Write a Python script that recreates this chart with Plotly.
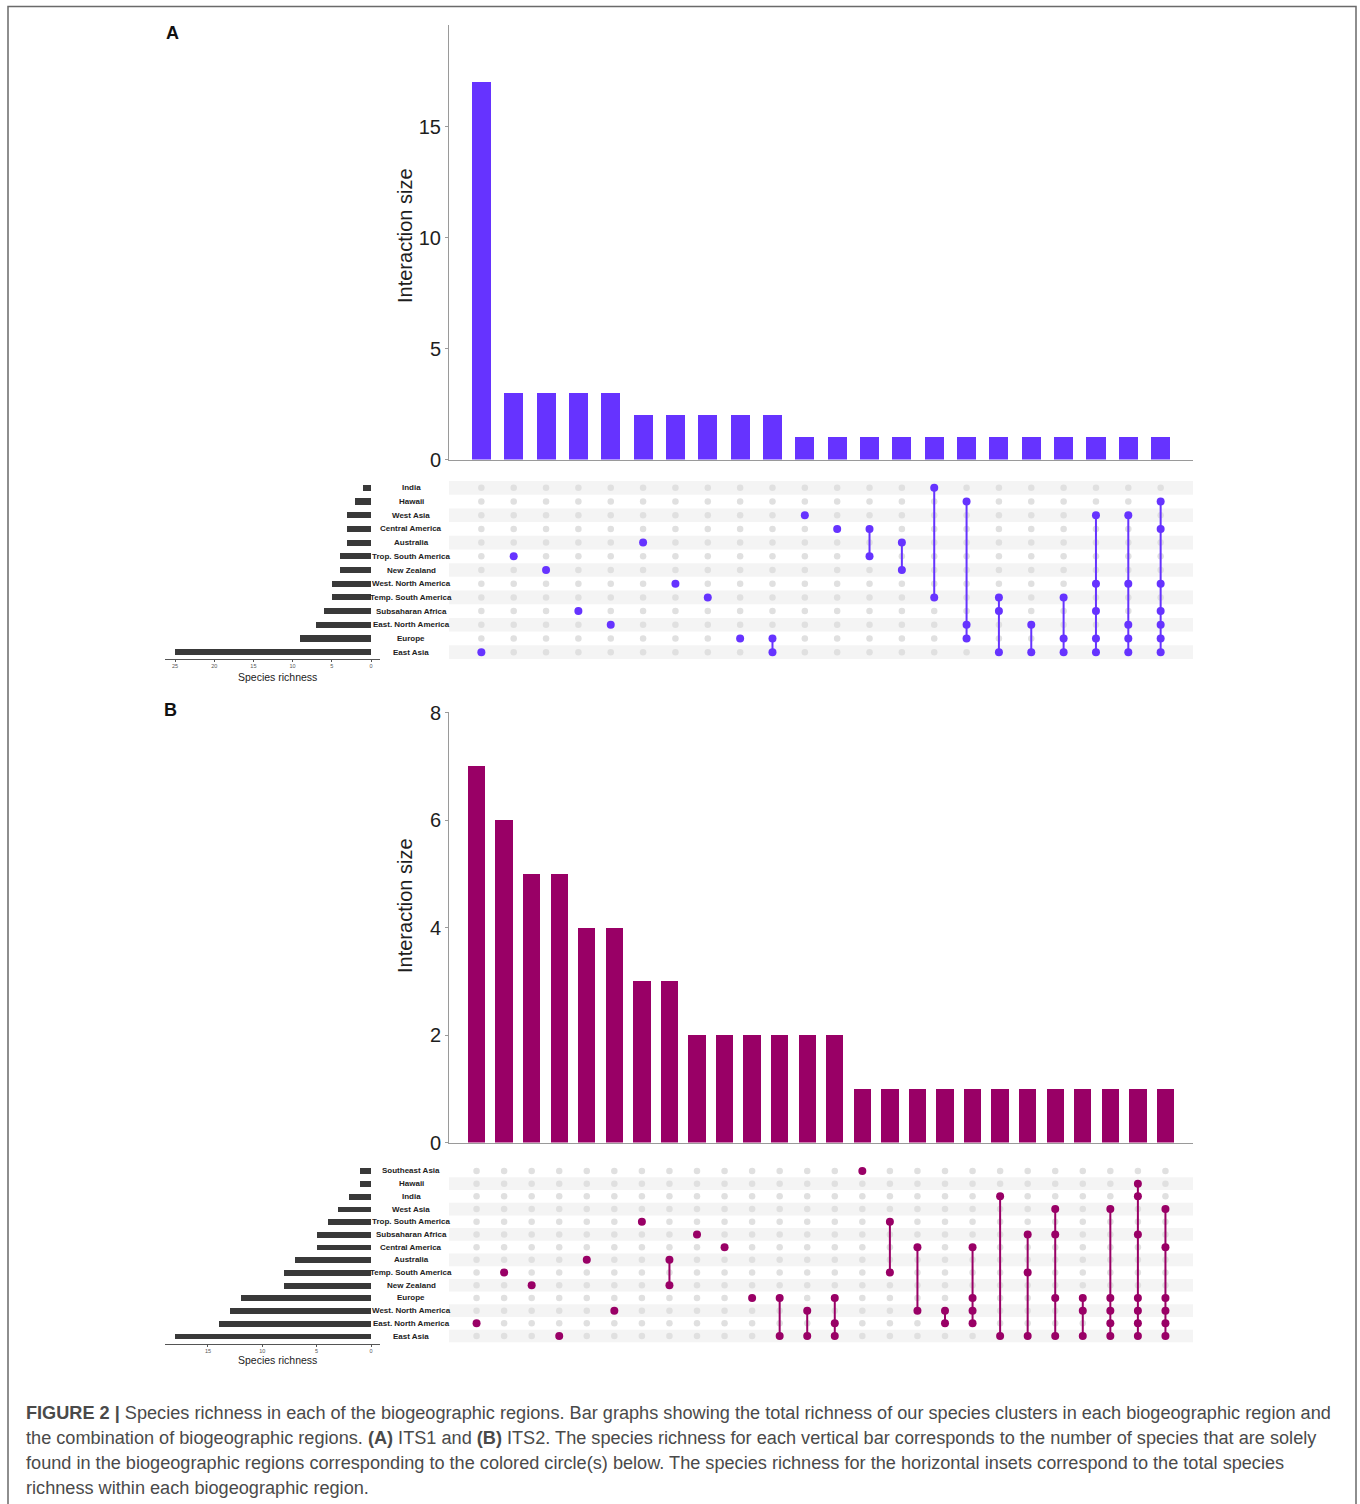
import plotly.graph_objects as go

# ---------------- data ----------------
# Panel A (ITS1)
sets_a = ["India", "Hawaii", "West Asia", "Central America", "Australia",
          "Trop. South America", "New Zealand", "West. North America",
          "Temp. South America", "Subsaharan Africa", "East. North America",
          "Europe", "East Asia"]
set_sizes_a = [1, 2, 3, 3, 3, 4, 4, 5, 5, 6, 7, 9, 25]
inter_sizes_a = [17, 3, 3, 3, 3, 2, 2, 2, 2, 2, 1, 1, 1, 1, 1, 1, 1, 1, 1, 1, 1, 1]
inter_members_a = [
    ["East Asia"],
    ["Trop. South America"],
    ["New Zealand"],
    ["Subsaharan Africa"],
    ["East. North America"],
    ["Australia"],
    ["West. North America"],
    ["Temp. South America"],
    ["Europe"],
    ["Europe", "East Asia"],
    ["West Asia"],
    ["Central America"],
    ["Central America", "Trop. South America"],
    ["Australia", "New Zealand"],
    ["India", "Temp. South America"],
    ["Hawaii", "East. North America", "Europe"],
    ["Temp. South America", "Subsaharan Africa", "East Asia"],
    ["East. North America", "East Asia"],
    ["Temp. South America", "Europe", "East Asia"],
    ["West Asia", "West. North America", "Subsaharan Africa", "Europe", "East Asia"],
    ["West Asia", "West. North America", "East. North America", "Europe", "East Asia"],
    ["Hawaii", "Central America", "West. North America", "Subsaharan Africa",
     "East. North America", "Europe", "East Asia"],
]

# Panel B (ITS2)
sets_b = ["Southeast Asia", "Hawaii", "India", "West Asia", "Trop. South America",
          "Subsaharan Africa", "Central America", "Australia", "Temp. South America",
          "New Zealand", "Europe", "West. North America", "East. North America",
          "East Asia"]
set_sizes_b = [1, 1, 2, 3, 4, 5, 5, 7, 8, 8, 12, 13, 14, 18]
inter_sizes_b = [7, 6, 5, 5, 4, 4, 3, 3, 2, 2, 2, 2, 2, 2,
                 1, 1, 1, 1, 1, 1, 1, 1, 1, 1, 1, 1]
inter_members_b = [
    ["East. North America"],
    ["Temp. South America"],
    ["New Zealand"],
    ["East Asia"],
    ["Australia"],
    ["West. North America"],
    ["Trop. South America"],
    ["Australia", "New Zealand"],
    ["Subsaharan Africa"],
    ["Central America"],
    ["Europe"],
    ["Europe", "East Asia"],
    ["West. North America", "East Asia"],
    ["Europe", "East. North America", "East Asia"],
    ["Southeast Asia"],
    ["Trop. South America", "Temp. South America"],
    ["Central America", "West. North America"],
    ["West. North America", "East. North America"],
    ["Central America", "Europe", "West. North America", "East. North America"],
    ["India", "East Asia"],
    ["Subsaharan Africa", "Temp. South America", "East Asia"],
    ["West Asia", "Subsaharan Africa", "Europe", "East Asia"],
    ["Europe", "West. North America", "East Asia"],
    ["West Asia", "Europe", "West. North America", "East. North America", "East Asia"],
    ["Hawaii", "India", "Subsaharan Africa", "Europe", "West. North America",
     "East. North America", "East Asia"],
    ["West Asia", "Central America", "Europe", "West. North America",
     "East. North America", "East Asia"],
]

color_a = "#6633FF"
color_b = "#990066"

# ---------------- layout helpers ----------------
W, H = 1360, 1504
FONT = "Liberation Sans, Arial, Helvetica, sans-serif"


def fx(x):
    return x / W


def fy(y):
    return 1 - y / H


fig = go.Figure()
annotations = []
shapes = []
layout_axes = {}


def add_panel(k, sets, set_sizes, inter_sizes, inter_members, color, geo):
    """k: panel number (0 or 1); uses three pairs of axes."""
    ax_bar, ax_mat, ax_ss = 3 * k + 1, 3 * k + 2, 3 * k + 3

    def nm(i):
        return "" if i == 1 else str(i)

    n_cols = len(inter_sizes)
    n_rows = len(sets)
    cols = list(range(n_cols))
    row_of = {s: n_rows - 1 - i for i, s in enumerate(sets)}
    x_range = [-1, n_cols]

    # --- intersection size bars ---
    fig.add_trace(go.Bar(
        x=cols, y=inter_sizes, width=geo["bar_w"], marker_color=color,
        marker_line_width=0, xaxis="x" + nm(ax_bar), yaxis="y" + nm(ax_bar),
        showlegend=False, hoverinfo="skip"))
    layout_axes["xaxis" + nm(ax_bar)] = dict(
        domain=[fx(449), fx(1193)], range=x_range, anchor="y" + nm(ax_bar),
        showline=True, linecolor="#9a9a9a", linewidth=1, showticklabels=False,
        ticks="", showgrid=False, zeroline=False, fixedrange=True,
        automargin=False)
    layout_axes["yaxis" + nm(ax_bar)] = dict(
        domain=[fy(geo["bar_bottom"]), fy(geo["bar_top"])],
        range=[0, geo["ymax"]], anchor="x" + nm(ax_bar),
        tickvals=geo["yticks"], showline=True, linecolor="#9a9a9a", linewidth=1,
        ticks="outside", ticklen=3, tickcolor="#9a9a9a",
        tickfont=dict(family=FONT, size=20, color="#1e1e1e"),
        showgrid=False, zeroline=False, fixedrange=True, automargin=False)
    annotations.append(dict(
        text="Interaction size", textangle=-90, xref="paper", yref="paper",
        x=fx(405), y=fy(geo["title_y"]), xanchor="center", yanchor="middle",
        showarrow=False, font=dict(family=FONT, size=20, color="#1e1e1e")))

    # --- membership matrix ---
    gx, gy = [], []
    for c in cols:
        for r in range(n_rows):
            gx.append(c)
            gy.append(r)
    fig.add_trace(go.Scatter(
        x=gx, y=gy, mode="markers",
        marker=dict(color="#e0e0e0", size=geo["dot_grey"]),
        xaxis="x" + nm(ax_mat), yaxis="y" + nm(ax_mat),
        showlegend=False, hoverinfo="skip"))
    for c, members in zip(cols, inter_members):
        rows = sorted(row_of[m] for m in members)
        fig.add_trace(go.Scatter(
            x=[c] * len(rows), y=rows, mode="lines+markers",
            line=dict(color=color, width=2),
            marker=dict(color=color, size=geo["dot_on"]),
            xaxis="x" + nm(ax_mat), yaxis="y" + nm(ax_mat),
            showlegend=False, hoverinfo="skip"))
    layout_axes["xaxis" + nm(ax_mat)] = dict(
        domain=[fx(449), fx(1193)], range=x_range, anchor="y" + nm(ax_mat),
        visible=False, fixedrange=True, automargin=False)
    layout_axes["yaxis" + nm(ax_mat)] = dict(
        domain=[fy(geo["mat_bottom"]), fy(geo["mat_top"])],
        range=[-0.5, n_rows - 0.5], anchor="x" + nm(ax_mat),
        visible=False, fixedrange=True, automargin=False)
    # alternating row stripes, starting from the bottom row
    for r in range(0, n_rows, 2):
        shapes.append(dict(
            type="rect", xref="x" + nm(ax_mat) + " domain", yref="y" + nm(ax_mat),
            x0=0, x1=1, y0=r - 0.5, y1=r + 0.5, fillcolor="#f4f4f4",
            line_width=0, layer="below"))
    # region labels
    for s in sets:
        annotations.append(dict(
            text="<b>" + s + "</b>", xref="paper", yref="y" + nm(ax_mat),
            x=fx(411), y=row_of[s], showarrow=False, xanchor="center",
            yanchor="middle", font=dict(family=FONT, size=8, color="#222222")))

    # --- set size bars ---
    fig.add_trace(go.Bar(
        x=set_sizes, y=[row_of[s] for s in sets], orientation="h",
        width=0.45, marker_color="#393939", marker_line_width=0,
        xaxis="x" + nm(ax_ss), yaxis="y" + nm(ax_ss),
        showlegend=False, hoverinfo="skip"))
    ss_lo = (371 - 165) / geo["ss_unit"]
    ss_hi = (371 - 380) / geo["ss_unit"]
    layout_axes["xaxis" + nm(ax_ss)] = dict(
        domain=[fx(165), fx(380)], range=[ss_lo, ss_hi], anchor="y" + nm(ax_ss),
        tickvals=geo["ss_ticks"], showline=True, linecolor="#555555", linewidth=1,
        ticks="outside", ticklen=1.5, tickcolor="#555555",
        tickfont=dict(family=FONT, size=5.5, color="#555555"),
        showgrid=False, zeroline=False, fixedrange=True, automargin=False)
    pad = (geo["ss_axis_y"] - geo["mat_bottom"]) / ((geo["mat_bottom"] - geo["mat_top"]) / n_rows)
    layout_axes["yaxis" + nm(ax_ss)] = dict(
        domain=[fy(geo["ss_axis_y"]), fy(geo["mat_top"])],
        range=[-0.5 - pad, n_rows - 0.5], anchor="x" + nm(ax_ss),
        visible=False, fixedrange=True, automargin=False)
    annotations.append(dict(
        text="Species richness", xref="paper", yref="paper",
        x=fx(277), y=fy(geo["ss_title_y"]), xanchor="center", yanchor="middle",
        showarrow=False, font=dict(family=FONT, size=10.5, color="#222222")))

    # panel letter
    annotations.append(dict(
        text="<b>" + geo["letter"] + "</b>", xref="paper", yref="paper",
        x=fx(geo["letter_x"]), y=fy(geo["letter_y"]), xanchor="center",
        yanchor="middle", showarrow=False,
        font=dict(family=FONT, size=18, color="#111111")))


add_panel(0, sets_a, set_sizes_a, inter_sizes_a, inter_members_a, color_a, dict(
    bar_top=25, bar_bottom=459.5, ymax=(459.5 - 25) / 22.2, yticks=[0, 5, 10, 15],
    bar_w=0.59, title_y=236, mat_top=481, mat_bottom=659, dot_grey=6.5, dot_on=8,
    ss_unit=7.84, ss_ticks=[0, 5, 10, 15, 20, 25], ss_axis_y=659, ss_title_y=676.5,
    letter="A", letter_x=172, letter_y=33))

add_panel(1, sets_b, set_sizes_b, inter_sizes_b, inter_members_b, color_b, dict(
    bar_top=712, bar_bottom=1142.5, ymax=(1142.5 - 712) / 53.75, yticks=[0, 2, 4, 6, 8],
    bar_w=0.63, title_y=906, mat_top=1164.6, mat_bottom=1342.4, dot_grey=6.5, dot_on=8,
    ss_unit=10.87, ss_ticks=[0, 5, 10, 15], ss_axis_y=1344, ss_title_y=1360,
    letter="B", letter_x=170, letter_y=710))

# figure caption
caption_lines = [
    "<b>FIGURE 2 |</b> Species richness in each of the biogeographic regions. Bar graphs "
    "showing the total richness of our species clusters in each biogeographic region and",
    "the combination of biogeographic regions. <b>(A)</b> ITS1 and <b>(B)</b> ITS2. The species "
    "richness for each vertical bar corresponds to the number of species that are solely",
    "found in the biogeographic regions corresponding to the colored circle(s) below. The "
    "species richness for the horizontal insets correspond to the total species",
    "richness within each biogeographic region.",
]
for i, line in enumerate(caption_lines):
    annotations.append(dict(
        text=line, xref="paper", yref="paper", x=fx(24), y=fy(1413 + 25 * i),
        xanchor="left", yanchor="middle", showarrow=False,
        font=dict(family=FONT, size=18.15, color="#4a4a4a")))

# outer frame
shapes.append(dict(
    type="rect", xref="paper", yref="paper", x0=fx(8), x1=fx(1356),
    y0=fy(1520), y1=fy(6.5), line=dict(color="#6a6a6a", width=1.5),
    fillcolor="rgba(0,0,0,0)", layer="above"))

fig.update_layout(
    width=W, height=H, autosize=False,
    margin=dict(l=0, r=0, t=0, b=0, pad=0, autoexpand=False),
    paper_bgcolor="white", plot_bgcolor="rgba(0,0,0,0)",
    bargap=0, showlegend=False,
    annotations=annotations, shapes=shapes,
    font=dict(family=FONT),
    **layout_axes)

# page without body margin so the figure fills the window exactly
fig.write_html("out.html", config={"displayModeBar": False},
               post_script="document.body.style.margin='0';"
                           "document.body.style.overflow='hidden';")
